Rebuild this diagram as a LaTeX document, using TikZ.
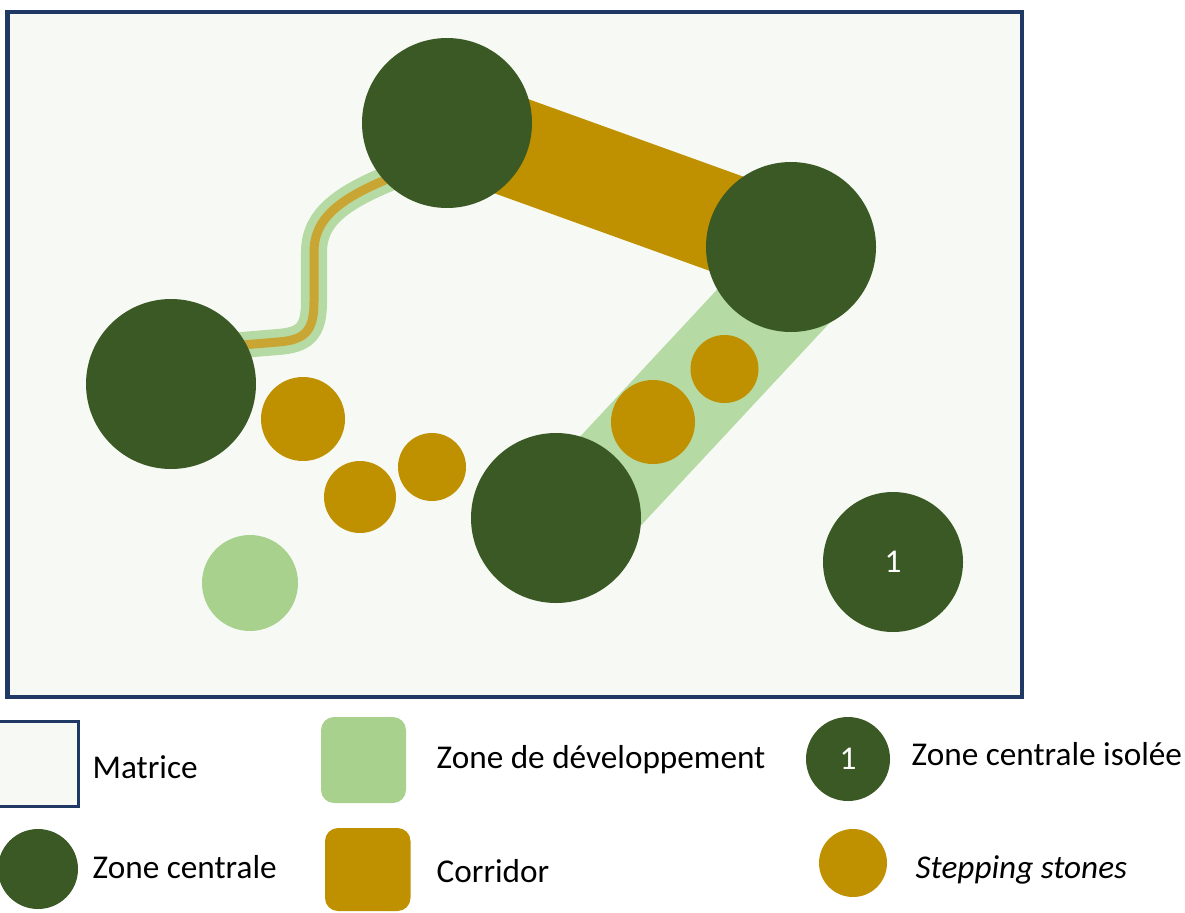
\documentclass[tikz,border=0pt]{standalone}
\usepackage{fontspec}
\setmainfont{Carlito}
\usepackage{tikz}
\usetikzlibrary{positioning}

\definecolor{matrice}{HTML}{F7FAF4}
\definecolor{cadre}{HTML}{1F3864}
\definecolor{centrale}{HTML}{3A5924}
\definecolor{dev}{HTML}{A9D18E}
\definecolor{bande}{HTML}{B6DAA3}
\definecolor{ocre}{HTML}{BF9000}
\definecolor{ocreclair}{HTML}{C9A634}

\tikzset{
	lbl/.style={anchor=base west, inner sep=0pt, font=\fontsize{9.45pt}{11pt}\selectfont},
	num/.style={text=white, inner sep=0pt, font=\fontsize{9.45pt}{11pt}\selectfont}
}

\begin{document}
\begin{tikzpicture}[x=0.01cm, y=-0.01cm]
	\useasboundingbox (0,0) rectangle (1185,912);
	\draw[cadre, fill=matrice, line width=0.45mm](7.5,12)rectangle(1022,697);
	% corridors
	\draw[ocre, line width=1cm](447,123)--(791,247);
	\draw[bande, line width=1.05cm](577.5,516.5)--(801.9,275.6);
	\foreach \c/\w in {bande/0.26cm, ocreclair/0.09cm}{
		\draw[\c, line width=\w](230,346)--(278,342)
			.. controls (304,340) and (314,332) .. (314,302)--(314,252)
			.. controls (314,215) and (345,195) .. (405,172);
	}
	% zones centrales
	\foreach \x/\y in {447/123, 791/247, 171/384, 556/518}{
		\fill[centrale](\x,\y)circle(85);
	}
	\fill[centrale](893,562)circle(70);
	\node[num] (iso) at (893,562) {1};
	\fill[dev](250,583)circle(48);
	% stepping stones
	\foreach \x/\y/\r in {303/419/42, 360/497/36, 432/467/34, 653/422/42, 724.5/369/34}{
		\fill[ocre](\x,\y)circle(\r);
	}

	% legende
	\draw[cadre, fill=matrice, line width=0.3mm](-2,721)rectangle(78.5,806);
	\node[lbl] (lmat) at (92,778) {Matrice};
	\fill[dev, rounded corners=0.13cm](321,717)rectangle(406,803);
	\node[lbl] (ldev) at (436,768) {Zone de développement};
	\fill[centrale](848,759)circle(42);
	\node[num] (lun) at (848,759) {1};
	\node[lbl] (liso) at (911,765) {Zone centrale isolée};
	\fill[centrale](38,869)circle(40);
	\node[lbl] (lcen) at (92,878) {Zone centrale};
	\fill[ocre, rounded corners=0.13cm](325,828)rectangle(410.5,911);
	\node[lbl] (lcor) at (436,882) {Corridor};
	\fill[ocre](853,863)circle(34);
	\node[lbl, font=\fontsize{9.45pt}{11pt}\selectfont\itshape] (lstep) at (915,878) {Stepping stones};
\end{tikzpicture}
\end{document}
